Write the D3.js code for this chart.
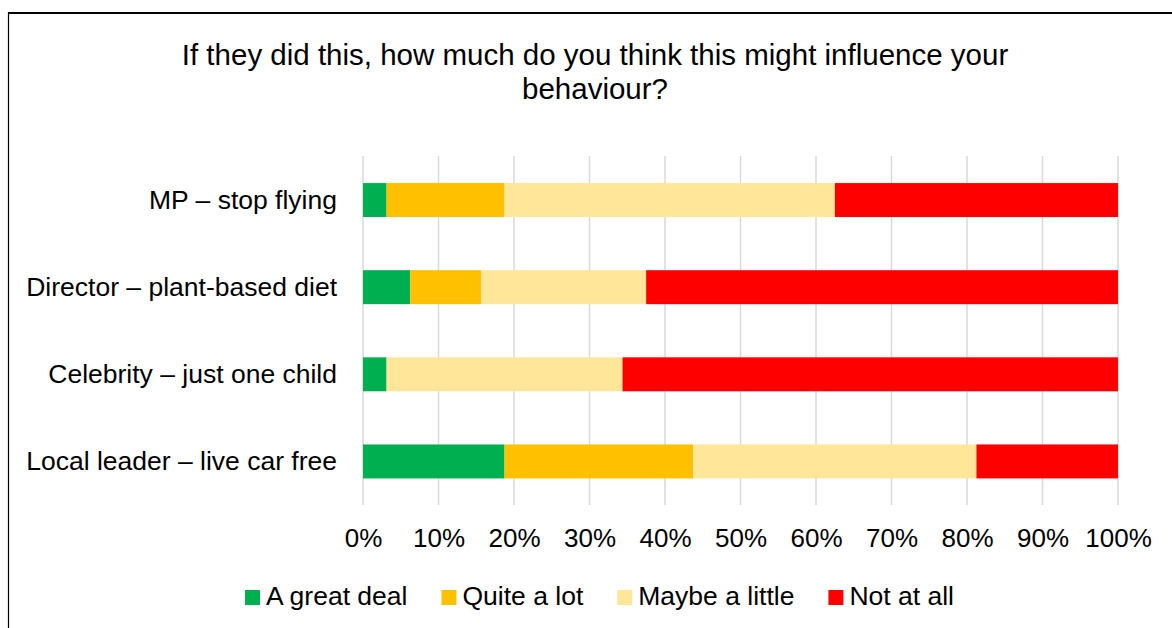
<!DOCTYPE html>
<html>
<head>
<meta charset="utf-8">
<script src="https://cdn.jsdelivr.net/npm/d3@7"></script>
<style>
  html, body { margin: 0; padding: 0; background: #fff; }
  svg { display: block; font-family: "Liberation Sans", Arial, sans-serif; }
</style>
</head>
<body>
<svg id="chart" width="1172" height="628"></svg>
<script>
// Responses per messenger, shown as share of respondents (%)
const categories = [
  "MP \u2013 stop flying",
  "Director \u2013 plant-based diet",
  "Celebrity \u2013 just one child",
  "Local leader \u2013 live car free"
];
const seriesNames = ["A great deal", "Quite a lot", "Maybe a little", "Not at all"];
const seriesColors = ["#00B050", "#FFC000", "#FFE699", "#FF0000"];
const aGreatDeal   = [3.125, 6.25, 3.125, 18.75];
const quiteALot    = [15.625, 9.375, 0, 25];
const maybeALittle = [43.75, 21.875, 31.25, 37.5];
const notAtAll     = [37.5, 62.5, 65.625, 18.75];
const tickValues = [0, 10, 20, 30, 40, 50, 60, 70, 80, 90, 100];
const titleLines = ["If they did this, how much do you think this might influence your", "behaviour?"];

const svg = d3.select("#chart");

// chart frame
svg.append("rect")
  .attr("x", 8.5).attr("y", 13)
  .attr("width", 1200).attr("height", 700)
  .attr("fill", "none").attr("stroke", "#000").attr("stroke-width", 1.2);
svg.append("line")
  .attr("x1", 8).attr("x2", 1172).attr("y1", 13).attr("y2", 13)
  .attr("stroke", "#000").attr("stroke-width", 2.2);

// title
const title = svg.append("text")
  .attr("text-anchor", "middle")
  .attr("font-size", 29.5)
  .attr("fill", "#000");
titleLines.forEach((t, i) => {
  title.append("tspan").attr("x", 595).attr("y", 65 + i * 33.5).text(t);
});

const rows = categories.map((c, i) => ({
  category: c,
  "A great deal": aGreatDeal[i],
  "Quite a lot": quiteALot[i],
  "Maybe a little": maybeALittle[i],
  "Not at all": notAtAll[i]
}));

const x = d3.scaleLinear().domain([0, 100]).range([363, 1118]);
const y = d3.scaleBand().domain(categories).range([156.5, 505])
  .paddingInner(0.61).paddingOuter(0.305);
const color = d3.scaleOrdinal().domain(seriesNames).range(seriesColors);

// vertical gridlines
svg.append("g")
  .selectAll("line")
  .data(tickValues)
  .join("line")
  .attr("x1", d => x(d)).attr("x2", d => x(d))
  .attr("y1", 156).attr("y2", 505)
  .attr("stroke", "#D9D9D9").attr("stroke-width", 1.5);

// stacked bars
const stack = d3.stack().keys(seriesNames)(rows);
svg.append("g")
  .selectAll("g")
  .data(stack)
  .join("g")
  .attr("fill", d => color(d.key))
  .selectAll("rect")
  .data(d => d)
  .join("rect")
  .attr("x", d => x(d[0]))
  .attr("width", d => Math.max(0, x(d[1]) - x(d[0])))
  .attr("y", d => y(d.data.category))
  .attr("height", y.bandwidth());

// category axis
const yAxis = svg.append("g")
  .attr("transform", "translate(363,0)")
  .call(d3.axisLeft(y).tickSize(0).tickPadding(26));
yAxis.select(".domain").remove();
yAxis.selectAll("text")
  .attr("font-size", 26.5)
  .attr("font-family", "Liberation Sans, Arial, sans-serif")
  .attr("fill", "#000");

// value axis
const xAxis = svg.append("g")
  .attr("transform", "translate(0,505)")
  .call(d3.axisBottom(x).tickValues(tickValues).tickFormat(d => d + "%").tickSize(0).tickPadding(24));
xAxis.select(".domain").remove();
xAxis.selectAll("text")
  .attr("font-size", 26)
  .attr("font-family", "Liberation Sans, Arial, sans-serif")
  .attr("fill", "#000");

// legend, centred under the chart
const legend = svg.append("g");
const items = legend.selectAll("g").data(seriesNames).join("g");
items.append("rect")
  .attr("width", 15).attr("height", 15)
  .attr("y", 590)
  .attr("fill", d => color(d));
items.append("text")
  .attr("x", 21).attr("y", 605)
  .attr("font-size", 26.5)
  .attr("fill", "#000")
  .text(d => d);
let offset = 0;
const widths = [];
items.each(function () {
  const w = 21 + this.querySelector("text").getComputedTextLength();
  widths.push(w);
});
const gap = 34;
const total = d3.sum(widths) + gap * (widths.length - 1);
let start = 599.5 - total / 2;
items.attr("transform", (d, i) => {
  const tx = start + offset;
  offset += widths[i] + gap;
  return `translate(${tx},0)`;
});
</script>
</body>
</html>
